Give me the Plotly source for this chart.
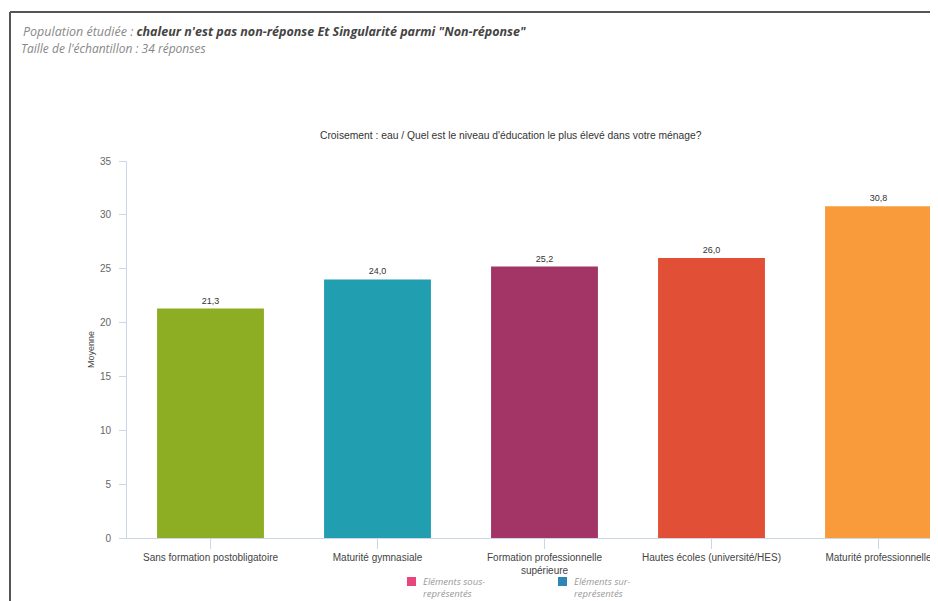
import plotly.graph_objects as go

categories = ["Sans formation postobligatoire", "Maturité gymnasiale",
              "Formation professionnelle<br>supérieure", "Hautes écoles (université/HES)",
              "Maturité professionnelle"]
values = [21.3, 24.0, 25.2, 26.0, 30.8]
colors = ["#8DAE22", "#219EAF", "#A23566", "#E04F36", "#F99B3A"]
y_ticks = [0, 5, 10, 15, 20, 25, 30, 35]
legend_labels = ["Eléments sous-<br>représentés", "Eléments sur-<br>représentés"]
legend_colors = ["#E8457F", "#2E86B7"]

# page has an 8px body margin; work in reference pixel coords and shift
OFF = 8
W, H = 938 - OFF, 601 - OFF
L, R, T, B = 127 - OFF, 0, 161 - OFF, (601 - 538)
pw, ph = W - L - R, H - T - B

def px(x):
    return (x - OFF - L) / pw

def py(y):
    return (H - B - (y - OFF)) / ph

labels = [f"{v:.1f}".replace(".", ",") for v in values]

fig = go.Figure()
fig.add_trace(go.Bar(
    x=list(range(len(categories))), y=values, marker=dict(color=colors, line=dict(width=0)),
    width=0.64, text=labels, textposition="outside", cliponaxis=False,
    textfont=dict(family="Liberation Sans, Arial", size=9, color="#333"),
    showlegend=False, hoverinfo="skip",
))

axcol = "#ccd6eb"
fig.update_layout(
    width=W, height=H,
    margin=dict(l=L, r=R, t=T, b=B),
    paper_bgcolor="white", plot_bgcolor="white",
    font=dict(family="Liberation Sans, Arial", color="#555"),
    xaxis=dict(
        range=[-0.5, -0.5 + pw / 167.0],
        tickmode="array", tickvals=list(range(len(categories))), ticktext=categories,
        tickson="boundaries", ticks="outside", ticklen=10, tickcolor=axcol,
        showline=True, linecolor=axcol, linewidth=1, showgrid=False, zeroline=False,
        tickfont=dict(size=10, color="#444"), fixedrange=True,
    ),
    yaxis=dict(
        range=[0, 35], tickvals=y_ticks, ticks="outside", ticklen=7, tickcolor=axcol,
        showline=True, linecolor=axcol, linewidth=1, showgrid=False, zeroline=False,
        tickfont=dict(size=10, color="#666"), ticklabelstandoff=6,
        title=dict(text="Moyenne", font=dict(size=9, color="#444"), standoff=3),
    ),
)

# frame
fig.add_shape(type="line", xref="paper", yref="paper", x0=px(10), x1=px(950),
              y0=py(12), y1=py(12), line=dict(color="#555", width=2))
fig.add_shape(type="line", xref="paper", yref="paper", x0=px(10), x1=px(10),
              y0=py(12), y1=py(620), line=dict(color="#555", width=2))

# header texts
fig.add_annotation(xref="paper", yref="paper", x=px(21), y=py(32), xanchor="left", yanchor="middle",
                   showarrow=False,
                   text="<i>Population étudiée : </i><b><i><span style='color:#444'>chaleur n'est pas non-réponse Et Singularité parmi \"Non-réponse\"</span></i></b>",
                   font=dict(family="Open Sans, Noto Sans", size=12.5, color="#888"))
fig.add_annotation(xref="paper", yref="paper", x=px(19), y=py(49), xanchor="left", yanchor="middle",
                   showarrow=False, text="<i>Taille de l'échantillon : 34 réponses</i>",
                   font=dict(family="Open Sans, Noto Sans", size=12, color="#888"))

# chart title
fig.add_annotation(xref="paper", yref="paper", x=px(511), y=py(135), xanchor="center", yanchor="middle",
                   showarrow=False,
                   text="Croisement : eau / Quel est le niveau d'éducation le plus élevé dans votre ménage?",
                   font=dict(family="Liberation Sans, Arial", size=10.3, color="#333"))

# legend
leg_x = [407, 558]
for lx, lab, col in zip(leg_x, legend_labels, legend_colors):
    fig.add_shape(type="rect", xref="paper", yref="paper", x0=px(lx), x1=px(lx + 9),
                  y0=py(577), y1=py(586), fillcolor=col, line=dict(width=0))
    fig.add_annotation(xref="paper", yref="paper", x=px(lx + 14), y=py(573), xanchor="left", yanchor="top",
                       showarrow=False, text=f"<i>{lab}</i>", align="left",
                       font=dict(family="Open Sans, Noto Sans", size=9.5, color="#999"))

fig.write_html("out.html")
